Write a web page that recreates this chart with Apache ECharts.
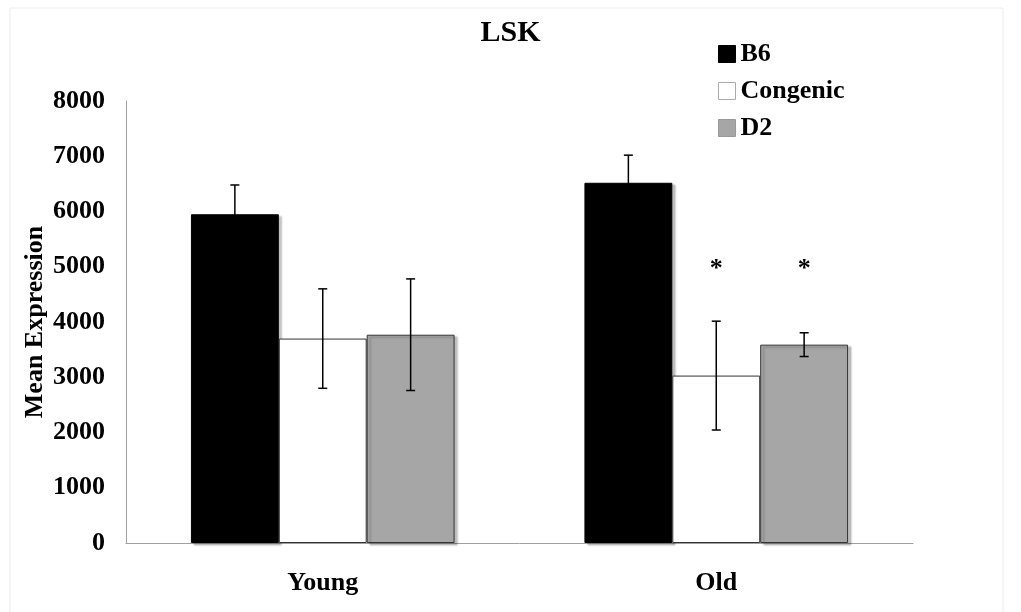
<!DOCTYPE html>
<html>
<head>
<meta charset="utf-8">
<script src="https://cdn.jsdelivr.net/npm/echarts@6/dist/echarts.min.js"></script>
<style>
  html, body { margin: 0; padding: 0; background: #fff; }
  #chart { width: 1021px; height: 612px; }
</style>
</head>
<body>
<div id="chart"></div>
<script>
// data
const groups = ["Young", "Old"];
const strains = ["B6", "Congenic", "D2"];
const b6Mean = [5950, 6520];
const congenicMean = [3700, 3030];
const d2Mean = [3770, 3590];
const b6Err = [530, 500];
const congenicErr = [900, 985];
const d2Err = [1010, 215];
const yTicks = [0, 1000, 2000, 3000, 4000, 5000, 6000, 7000, 8000];
// asterisks: [group index, strain index, height]
const stars = [[1, 1, 4960], [1, 2, 4960]];

const fills = ["#000000", "#ffffff", "#a6a6a6"];
const means = [b6Mean, congenicMean, d2Mean];
const errs = [b6Err, congenicErr, d2Err];
const font = "Liberation Serif";
const catGap = 0.33;

// x of bar centre for strain s in a category
function barX(api, cx, s) {
  const band = api.size([1, 0])[0];
  const w = band * (1 - catGap) / 3;
  return cx + (s - 1) * w;
}

const errData = [];
means.forEach((m, s) => {
  m.forEach((v, g) => {
    errData.push([g, v - errs[s][g], v + errs[s][g], s]);
  });
});

const chart = echarts.init(document.getElementById("chart"));

const barSeries = strains.map((name, s) => ({
  name: name,
  type: "bar",
  data: means[s],
  barGap: 0,
  barCategoryGap: "33%",
  itemStyle: {
    color: fills[s],
    borderColor: s === 0 ? "#000" : "#333",
    borderWidth: 1,
    shadowColor: s === 1 ? "rgba(0,0,0,0)" : "rgba(0,0,0,0.25)",
    shadowBlur: 2,
    shadowOffsetX: 3,
    shadowOffsetY: 2,
  },
  z: 2,
}));

chart.setOption({
  animation: false,
  backgroundColor: "#fff",
  graphic: [
    {
      type: "rect",
      shape: { x: 10, y: 8, width: 993, height: 620 },
      style: { fill: "none", stroke: "#ececec", lineWidth: 1 },
      silent: true,
      z: -1,
    },
  ],
  title: {
    text: "LSK",
    left: "center",
    top: 13,
    textStyle: { fontFamily: font, fontWeight: "bold", fontSize: 30, color: "#000" },
  },
  legend: {
    orient: "vertical",
    left: 718,
    top: 41,
    padding: 0,
    itemWidth: 17,
    itemHeight: 17,
    itemGap: 11,
    selectedMode: false,
    textStyle: { fontFamily: font, fontWeight: "bold", fontSize: 26, color: "#000", lineHeight: 26 },
    data: [
      { name: "B6", icon: "rect", itemStyle: { color: "#000", borderColor: "#000", borderWidth: 1, shadowBlur: 0, shadowOffsetX: 0, shadowOffsetY: 0 } },
      { name: "Congenic", icon: "rect", itemStyle: { color: "#fff", borderColor: "#aaa", borderWidth: 1, shadowBlur: 0, shadowOffsetX: 0, shadowOffsetY: 0 } },
      { name: "D2", icon: "rect", itemStyle: { color: "#a6a6a6", borderColor: "#999", borderWidth: 1, shadowBlur: 0, shadowOffsetX: 0, shadowOffsetY: 0 } },
    ],
  },
  grid: { left: 126, right: 108, top: 101, bottom: 69, containLabel: false },
  xAxis: {
    type: "category",
    data: groups,
    axisLine: { lineStyle: { color: "#a0a0a0", width: 1 } },
    axisTick: { show: false },
    axisLabel: { fontFamily: font, fontWeight: "bold", fontSize: 26, color: "#000", margin: 27 },
  },
  yAxis: {
    type: "value",
    min: yTicks[0],
    max: yTicks[yTicks.length - 1],
    interval: 1000,
    name: "Mean Expression",
    nameLocation: "middle",
    nameGap: 78,
    nameMoveOverlap: false,
    nameTextStyle: { fontFamily: font, fontWeight: "bold", fontSize: 26, color: "#000" },
    axisLine: { show: true, lineStyle: { color: "#a0a0a0", width: 1 } },
    axisTick: { show: false },
    splitLine: { show: false },
    axisLabel: {
      fontFamily: font, fontWeight: "bold", fontSize: 26, color: "#000", margin: 21,
      formatter: (v) => String(v),
    },
  },
  series: [
    ...barSeries,
    {
      name: "err",
      type: "custom",
      data: errData,
      z: 5,
      renderItem: function (params, api) {
        const g = api.value(0);
        const s = api.value(3);
        const lo = api.coord([g, api.value(1)]);
        const hi = api.coord([g, api.value(2)]);
        const x = barX(api, lo[0], s);
        const cap = 4.5;
        const st = { stroke: "#000", lineWidth: 1.5 };
        return {
          type: "group",
          children: [
            { type: "line", shape: { x1: x, y1: lo[1], x2: x, y2: hi[1] }, style: st },
            { type: "line", shape: { x1: x - cap, y1: hi[1], x2: x + cap, y2: hi[1] }, style: st },
            { type: "line", shape: { x1: x - cap, y1: lo[1], x2: x + cap, y2: lo[1] }, style: st },
          ],
        };
      },
    },
    {
      name: "sig",
      type: "custom",
      data: stars,
      z: 5,
      renderItem: function (params, api) {
        const g = api.value(0);
        const s = api.value(1);
        const p = api.coord([g, api.value(2)]);
        const x = barX(api, p[0], s);
        return {
          type: "text",
          style: {
            text: "*",
            x: x,
            y: p[1],
            align: "center",
            verticalAlign: "middle",
            font: "bold 26px 'Liberation Serif'",
            fill: "#000",
          },
        };
      },
    },
  ],
});
</script>
</body>
</html>
